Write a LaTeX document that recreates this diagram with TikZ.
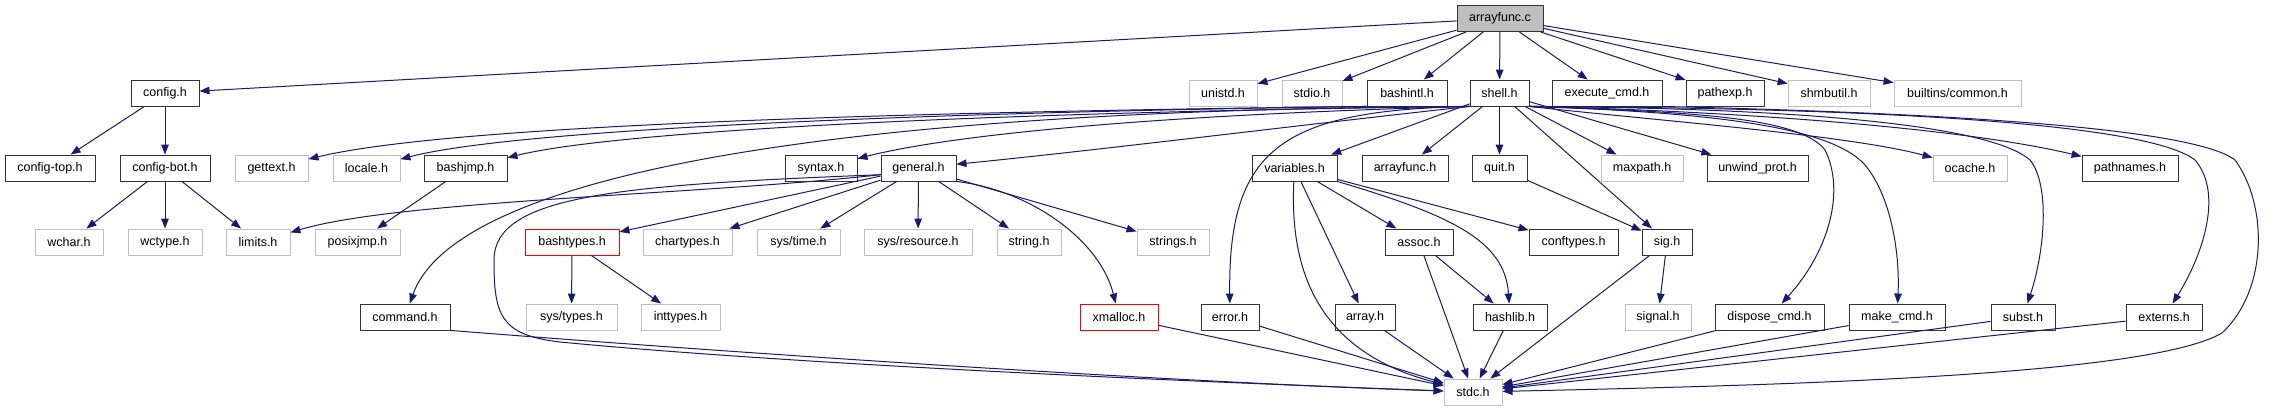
\documentclass[tikz,border=0pt]{standalone}
\usepackage{fontspec}
\setmainfont{Liberation Sans}
\usetikzlibrary{arrows.meta}
\definecolor{edgecol}{HTML}{191970}
\definecolor{extgray}{HTML}{BFBFBF}
\definecolor{rootfill}{HTML}{BFBFBF}
\definecolor{docborder}{HTML}{333333}
\begin{document}
\begin{tikzpicture}[x=1pt,y=-1pt,
  box/.style={rectangle, inner sep=0pt, minimum height=26pt, line width=0.9pt, fill=white,
    font=\fontsize{12.5}{14}\selectfont},
  doc/.style={box, draw=docborder},
  ext/.style={box, draw=extgray},
  trunc/.style={box, draw=red},
  root/.style={box, draw=docborder, fill=rootfill},
  dep/.style={draw=edgecol, line width=1pt, -{Triangle[length=10pt,width=7.5pt]}}]
\fill[white] (0,0) rectangle (2269,411);
\useasboundingbox (0,0) rectangle (2269,411);

% row 0
\node[root, minimum width=86pt] (A) at (1500,18.5) {arrayfunc.c};
% row 1
\node[doc, minimum width=68pt] (config) at (165,93) {config.h};
\node[ext, minimum width=68pt] (unistd) at (1223,93) {unistd.h};
\node[ext, minimum width=60pt] (stdio) at (1312,93) {stdio.h};
\node[doc, minimum width=80pt] (bashintl) at (1407,93) {bashintl.h};
\node[doc, minimum width=59pt] (shell) at (1499.5,93) {shell.h};
\node[doc, minimum width=110pt] (execcmd) at (1607,93) {execute\_cmd.h};
\node[doc, minimum width=78pt] (pathexp) at (1725,93) {pathexp.h};
\node[ext, minimum width=82pt] (shmbutil) at (1829,93) {shmbutil.h};
\node[ext, minimum width=127pt] (bcommon) at (1957.5,93) {builtins/common.h};
% row 2
\node[doc, minimum width=90pt] (configtop) at (50,168) {config-top.h};
\node[doc, minimum width=90pt] (configbot) at (165,168) {config-bot.h};
\node[ext, minimum width=73pt] (gettext) at (271.5,168) {gettext.h};
\node[ext, minimum width=67pt] (locale) at (366.5,168) {locale.h};
\node[doc, minimum width=83pt] (bashjmp) at (465.5,168) {bashjmp.h};
\node[doc, minimum width=72pt] (syntax) at (821,168) {syntax.h};
\node[doc, minimum width=75pt] (general) at (918.5,168) {general.h};
\node[doc, minimum width=85pt] (variables) at (1294.5,168) {variables.h};
\node[doc, minimum width=86pt] (arrayfunch) at (1405,168) {arrayfunc.h};
\node[doc, minimum width=55pt] (quit) at (1499.5,168) {quit.h};
\node[ext, minimum width=82pt] (maxpath) at (1642,168) {maxpath.h};
\node[doc, minimum width=101pt] (unwind) at (1757.5,168) {unwind\_prot.h};
\node[ext, minimum width=74pt] (ocache) at (1970,168) {ocache.h};
\node[doc, minimum width=96pt] (pathnames) at (2130,168) {pathnames.h};
% row 3
\node[ext, minimum width=68pt] (wchar) at (69,242) {wchar.h};
\node[ext, minimum width=74pt] (wctype) at (165,242) {wctype.h};
\node[ext, minimum width=64pt] (limits) at (258,242) {limits.h};
\node[ext, minimum width=85pt] (posixjmp) at (357.5,242) {posixjmp.h};
\node[trunc, minimum width=94pt] (bashtypes) at (572,242) {bashtypes.h};
\node[ext, minimum width=89pt] (chartypes) at (687.5,242) {chartypes.h};
\node[ext, minimum width=83pt] (systime) at (798.5,242) {sys/time.h};
\node[ext, minimum width=108pt] (sysres) at (918,242) {sys/resource.h};
\node[ext, minimum width=64pt] (string) at (1029,242) {string.h};
\node[ext, minimum width=72pt] (strings) at (1173,242) {strings.h};
\node[doc, minimum width=68pt] (assoc) at (1419,242) {assoc.h};
\node[doc, minimum width=89pt] (conftypes) at (1573.5,242) {conftypes.h};
\node[doc, minimum width=50pt] (sig) at (1667,242) {sig.h};
% row 4
\node[doc, minimum width=90pt] (command) at (405,317) {command.h};
\node[ext, minimum width=91pt] (systypes) at (571.5,317) {sys/types.h};
\node[ext, minimum width=79pt] (inttypes) at (680.5,317) {inttypes.h};
\node[trunc, minimum width=78pt] (xmalloc) at (1119,317) {xmalloc.h};
\node[doc, minimum width=58pt] (error) at (1230,317) {error.h};
\node[doc, minimum width=60pt] (array) at (1365,317) {array.h};
\node[doc, minimum width=74pt] (hashlib) at (1510,317) {hashlib.h};
\node[ext, minimum width=66pt] (signal) at (1658,317) {signal.h};
\node[doc, minimum width=109pt] (dispose) at (1769.5,317) {dispose\_cmd.h};
\node[doc, minimum width=96pt] (make) at (1897,317) {make\_cmd.h};
\node[doc, minimum width=64pt] (subst) at (2023,317) {subst.h};
\node[doc, minimum width=76pt] (externs) at (2164,317) {externs.h};
% row 5
\node[ext, minimum width=58pt] (stdc) at (1473,392) {stdc.h};

% arrayfunc.c
\foreach \t in {config,unistd,stdio,bashintl,shell,execcmd,pathexp,shmbutil,bcommon}
  \draw[dep] (A) -- (\t);
% config
\draw[dep] (config) -- (configtop);
\draw[dep] (config) -- (configbot);
\foreach \t in {wchar,wctype,limits}
  \draw[dep] (configbot) -- (\t);
\draw[dep] (bashjmp) -- (posixjmp);
% bashintl
\draw[dep] (bashintl.south west) .. controls (900,112) and (450,125) .. (gettext);
\draw[dep] (bashintl.south west) .. controls (950,112) and (520,128) .. (locale);
% shell, leftwards
\draw[dep] (shell.south west) .. controls (1000,112) and (620,130) .. (bashjmp);
\draw[dep] (shell.south west) .. controls (1150,115) and (950,135) .. (syntax);
\draw[dep] (shell.south west) .. controls (1300,125) and (1100,150) .. (general);
\draw[dep] (shell.south west) .. controls (750,110) and (450,190) .. (command);
\draw[dep] (shell.south west) .. controls (1280,110) and (1228,150) .. (error);
% shell, straight
\foreach \t in {variables,arrayfunch,quit,maxpath,unwind,sig}
  \draw[dep] (shell) -- (\t);
% shell, rightwards
\draw[dep] (shell.south east) .. controls (1650,120) and (1850,135) .. (ocache);
\draw[dep] (shell.south east) .. controls (1700,110) and (1950,125) .. (pathnames);
\draw[dep] (shell.south east) .. controls (1700,112) and (1800,118) .. (1825,150)
  .. controls (1845,190) and (1830,250) .. (dispose);
\draw[dep] (shell.south east) .. controls (1700,112) and (1830,125) .. (1865,165)
  .. controls (1890,195) and (1900,250) .. (make);
\draw[dep] (shell.south east) .. controls (1800,108) and (1990,125) .. (2030,160)
  .. controls (2050,185) and (2045,250) .. (subst);
\draw[dep] (shell.south east) .. controls (1900,108) and (2150,125) .. (2195,160)
  .. controls (2225,195) and (2200,260) .. (externs);
% execute_cmd.h
\draw[dep] (execcmd.south east) .. controls (1900,112) and (2190,125) .. (2235,160)
  .. controls (2268,205) and (2268,290) .. (2222,333)
  .. controls (2150,375) and (1800,385) .. (stdc);
% general.h
\draw[dep] (general.190) .. controls (700,195) and (400,200) .. (limits);
\foreach \t in {bashtypes,chartypes,systime,sysres,string,strings}
  \draw[dep] (general) -- (\t);
\draw[dep] (general.south east) .. controls (1030,190) and (1100,240) .. (xmalloc);
\draw[dep] (general.190) .. controls (620,185) and (494,195) .. (494,260)
  .. controls (494,315) and (500,335) .. (560,342)
  .. controls (800,365) and (1200,382) .. (stdc);
\draw[dep] (bashtypes) -- (systypes);
\draw[dep] (bashtypes) -- (inttypes);
% command.h
\draw[dep] (command.south east) .. controls (800,358) and (1200,383) .. (stdc);
% variables.h
\draw[dep] (variables) -- (array);
\draw[dep] (variables) -- (assoc);
\draw[dep] (variables) -- (conftypes);
\draw[dep] (variables.south east) .. controls (1450,215) and (1505,240) .. (hashlib);
\draw[dep] (variables) .. controls (1290,260) and (1310,350) .. (stdc);
\draw[dep] (assoc) -- (hashlib);
% quit, sig
\draw[dep] (quit) -- (sig);
\draw[dep] (sig) -- (signal);
% to stdc.h
\foreach \s in {xmalloc,error,array,assoc,hashlib,sig,dispose,make,subst,externs}
  \draw[dep] (\s) -- (stdc);
\end{tikzpicture}
\end{document}
